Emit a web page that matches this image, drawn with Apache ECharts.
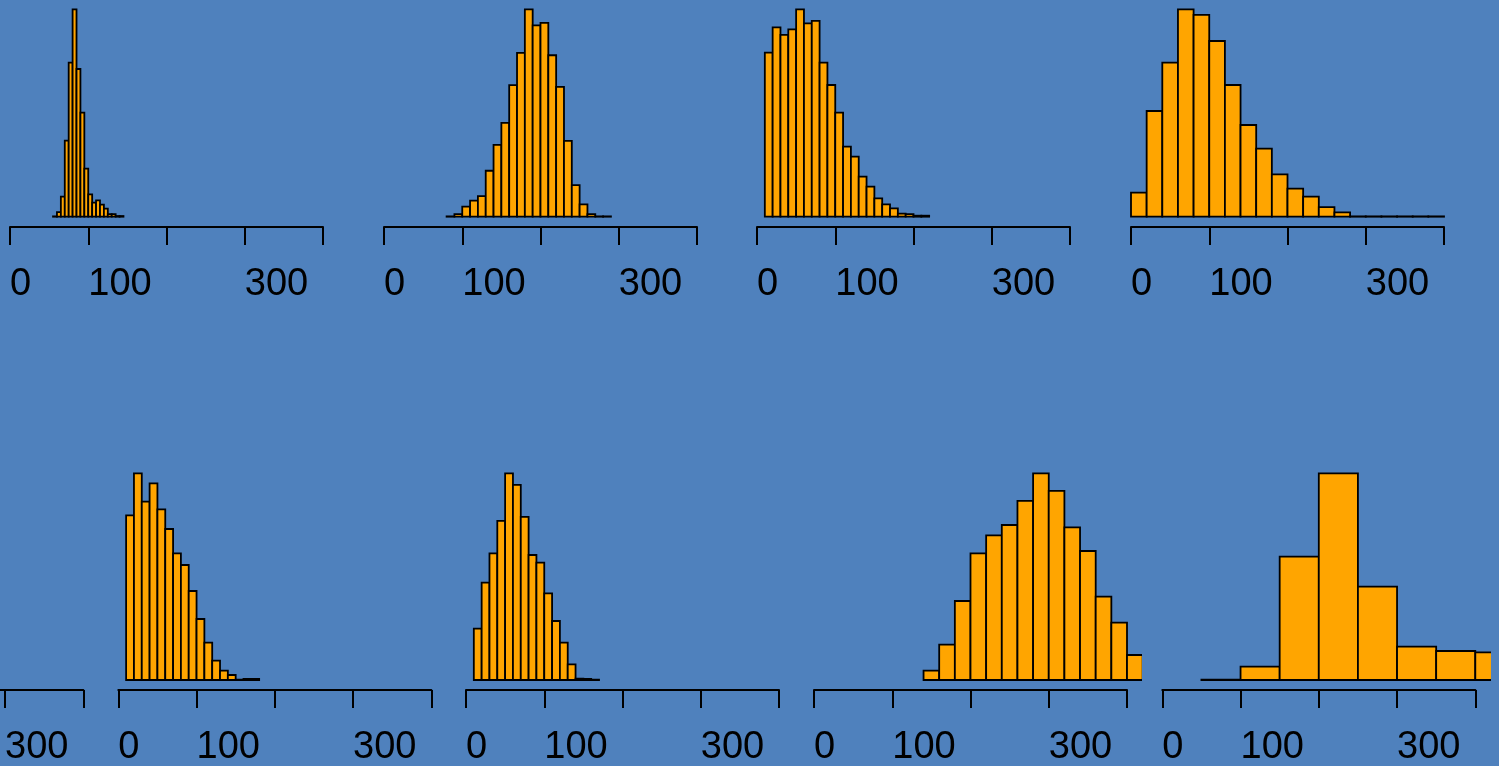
<!DOCTYPE html>
<html>
<head>
<meta charset="utf-8">
<script src="https://cdn.jsdelivr.net/npm/echarts@6/dist/echarts.min.js"></script>
<style>
html,body{margin:0;padding:0;background:#4f81bd;overflow:hidden;}
#chart{width:1499px;height:766px;}
</style>
</head>
<body>
<div id="chart"></div>
<script>
// ---- data ----
const tickValues = [0, 100, 200, 300, 400];
const tickLabels = ['0', '100', '', '300', ''];

// histogram bins: first break and bin width per panel (panel 5 is the cut-off one, no bars visible)
const binStarts = [55, 80, 10, 0, null, 10, 10, 140, 50];
const binWidths = [5, 10, 10, 20, null, 10, 10, 20, 50];

const counts1 = [1, 14, 60, 228, 462, 622, 443, 312, 144, 67, 42, 49, 36, 24, 8, 8, 2, 2];
const counts2 = [1, 8, 30, 48, 62, 138, 216, 282, 395, 492, 623, 575, 582, 485, 390, 228, 95, 37, 8, 1, 1];
const counts3 = [492, 568, 545, 562, 622, 580, 587, 462, 395, 312, 210, 180, 120, 90, 55, 37, 25, 9, 8, 3, 3];
const counts4 = [72, 317, 462, 622, 605, 527, 395, 275, 204, 127, 84, 60, 29, 13, 1, 1, 1, 1, 1, 1];
const counts5 = [];
const counts6 = [494, 620, 535, 590, 512, 453, 380, 345, 267, 183, 112, 58, 28, 15, 1, 3, 3];
const counts7 = [154, 292, 380, 477, 620, 585, 489, 375, 352, 260, 177, 112, 47, 4, 3, 1];
const counts8 = [28, 106, 237, 380, 434, 465, 537, 620, 567, 458, 387, 250, 172, 75];
const counts9 = [1, 40, 370, 620, 280, 100, 87, 83];
const allCounts = [counts1, counts2, counts3, counts4, counts5, counts6, counts7, counts8, counts9];

// ---- layout (pixels) ----
const pxPerUnit = 0.7825;
const panelX0 = [10, 384, 757, 1131, -229.7, 118.3, 466, 814, 1162.3]; // x pixel of value 0
const panelRow = [0, 0, 0, 0, 1, 1, 1, 1, 1];
const rowBase = [216.7, 680];     // bar baseline
const rowPeak = [207.4, 206.7];   // px height of tallest bar
const rowAxis = [227, 690];       // axis line y
const clipLo = -18, clipHi = 418;

const FONT = 'Liberation Sans, Arial, Helvetica, sans-serif';

function labelFor(v) {
  const i = tickValues.indexOf(v);
  return i >= 0 ? tickLabels[i] : '';
}

function renderBar(params, api) {
  const x0 = api.value(0), x1 = api.value(1), c = api.value(2);
  const a = api.coord([x0, c]);
  const b = api.coord([x1, 0]);
  return {
    type: 'rect',
    shape: { x: a[0], y: a[1], width: b[0] - a[0], height: b[1] - a[1] },
    style: { fill: '#FFA500', stroke: '#000', lineWidth: 1.8 }
  };
}

const grid = [], xAxis = [], yAxis = [], series = [];
panelX0.forEach((x0, k) => {
  const r = panelRow[k];
  const peak = rowPeak[r];
  // bar grid (value range -4%..104% of peak)
  grid.push({
    left: x0 + clipLo * pxPerUnit,
    width: (clipHi - clipLo) * pxPerUnit,
    top: rowBase[r] - 1.04 * peak,
    height: 1.08 * peak,
    outerBoundsMode: 'none', containLabel: false
  });
  const gBar = grid.length - 1;
  xAxis.push({ gridIndex: gBar, type: 'value', min: clipLo, max: clipHi, show: false });
  yAxis.push({
    gridIndex: gBar, type: 'value', show: false,
    min: e => -0.04 * (isFinite(e.max) ? e.max : 1),
    max: e => 1.04 * (isFinite(e.max) ? e.max : 1)
  });
  // axis grid
  grid.push({ left: x0, width: 400 * pxPerUnit, top: rowAxis[r] - 30, height: 30,
              outerBoundsMode: 'none', containLabel: false });
  const gAx = grid.length - 1;
  xAxis.push({
    gridIndex: gAx, type: 'value', min: tickValues[0], max: tickValues[tickValues.length - 1], interval: 100,
    axisLine: { show: true, onZero: false, lineStyle: { color: '#000', width: 2 } },
    axisTick: { show: true, length: 18, lineStyle: { color: '#000', width: 2 } },
    splitLine: { show: false },
    axisLabel: {
      show: true, align: 'left', margin: 39, fontSize: 38, fontFamily: FONT, color: '#000',
      showMinLabel: true, showMaxLabel: true, hideOverlap: false, formatter: labelFor
    }
  });
  yAxis.push({ gridIndex: gAx, type: 'value', show: false, min: 0, max: 1 });

  const cs = allCounts[k];
  if (cs.length) {
    const data = cs.map((c, i) => [binStarts[k] + i * binWidths[k], binStarts[k] + (i + 1) * binWidths[k], c]);
    series.push({
      type: 'custom', xAxisIndex: xAxis.length - 2, yAxisIndex: yAxis.length - 2,
      renderItem: renderBar, clip: true, silent: true, animation: false,
      encode: { x: [0, 1], y: 2 }, data: data
    });
  }
});

const chart = echarts.init(document.getElementById('chart'), null, { renderer: 'canvas' });
chart.setOption({
  backgroundColor: '#4f81bd',
  animation: false,
  grid, xAxis, yAxis, series
});
</script>
</body>
</html>
